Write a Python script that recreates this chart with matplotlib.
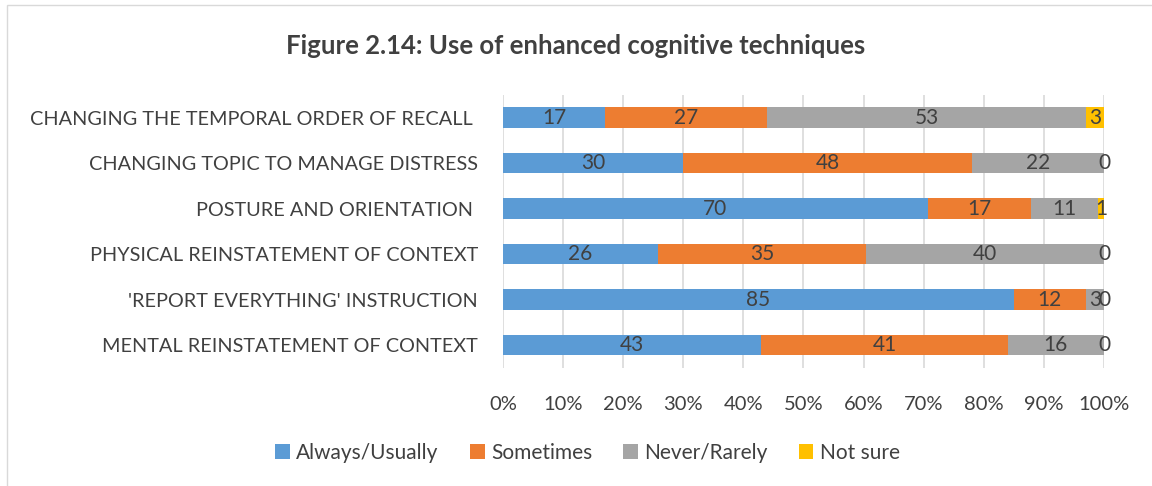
import numpy as np
import matplotlib.pyplot as plt
from matplotlib.patches import Rectangle

plt.rcParams['font.family'] = ['Lato', 'DejaVu Sans']

# data, bottom row first
categorias = ["MENTAL REINSTATEMENT OF CONTEXT",
              "'REPORT EVERYTHING' INSTRUCTION",
              "PHYSICAL REINSTATEMENT OF CONTEXT",
              "POSTURE AND ORIENTATION ",
              "CHANGING TOPIC TO MANAGE DISTRESS",
              "CHANGING THE TEMPORAL ORDER OF RECALL "]
siempre = [43, 85, 26, 70, 30, 17]
a_veces = [41, 12, 35, 17, 48, 27]
nunca = [16, 3, 40, 11, 22, 53]
no_seguro = [0, 0, 0, 1, 0, 3]

series = [("Always/Usually", siempre, '#5B9BD5'),
          ("Sometimes", a_veces, '#ED7D31'),
          ("Never/Rarely", nunca, '#A5A5A5'),
          ("Not sure", no_seguro, '#FFC000')]

total = np.array(siempre) + np.array(a_veces) + np.array(nunca) + np.array(no_seguro)

fig = plt.figure(figsize=(11.52, 4.86), dpi=100)
ax = fig.add_axes([0.4366, 0.243, 0.5217, 0.562])

y = np.arange(len(categorias))
izq = np.zeros(len(categorias))
for nombre, vals, color in series:
    vals = np.array(vals, dtype=float)
    ancho = vals / total
    ax.barh(y, ancho, left=izq, height=0.45, color=color, label=nombre, zorder=2)
    for i in range(len(y)):
        ax.text(izq[i] + ancho[i] / 2, y[i], f"{int(vals[i])}", ha='center', va='center',
                fontsize=15, color='#404040', zorder=3)
    izq += ancho

ax.set_xlim(0, 1)
ax.set_ylim(-0.5, len(categorias) - 0.5)
ax.set_xticks(np.linspace(0, 1, 11))
ax.set_xticklabels([f"{int(round(t * 100))}%" for t in np.linspace(0, 1, 11)])
ax.set_yticks(y)
ax.set_yticklabels(categorias)
ax.tick_params(axis='both', length=0, labelsize=14.3, labelcolor='#404040')
ax.tick_params(axis='x', pad=20, labelsize=14.5)
ax.tick_params(axis='y', pad=18)
ax.grid(axis='x', color='#D9D9D9', linewidth=1.2, zorder=0)
for s in ax.spines.values():
    s.set_visible(False)

fig.text(0.5, 0.905, "Figure 2.14: Use of enhanced cognitive techniques", ha='center', va='center',
         fontsize=18.5, fontweight='bold', color='#404040')

fig.legend(loc='center', bbox_to_anchor=(0.51, 0.068), ncol=4, frameon=False, fontsize=15,
           handlelength=0.7, handleheight=0.7, handletextpad=0.3, columnspacing=1.5,
           labelcolor='#404040')

fig.patches.append(Rectangle((0.006, -0.1), 1.2, 1.09, transform=fig.transFigure,
                             fill=False, edgecolor='#D9D9D9', linewidth=1))

fig.savefig('out.png', dpi=100)
